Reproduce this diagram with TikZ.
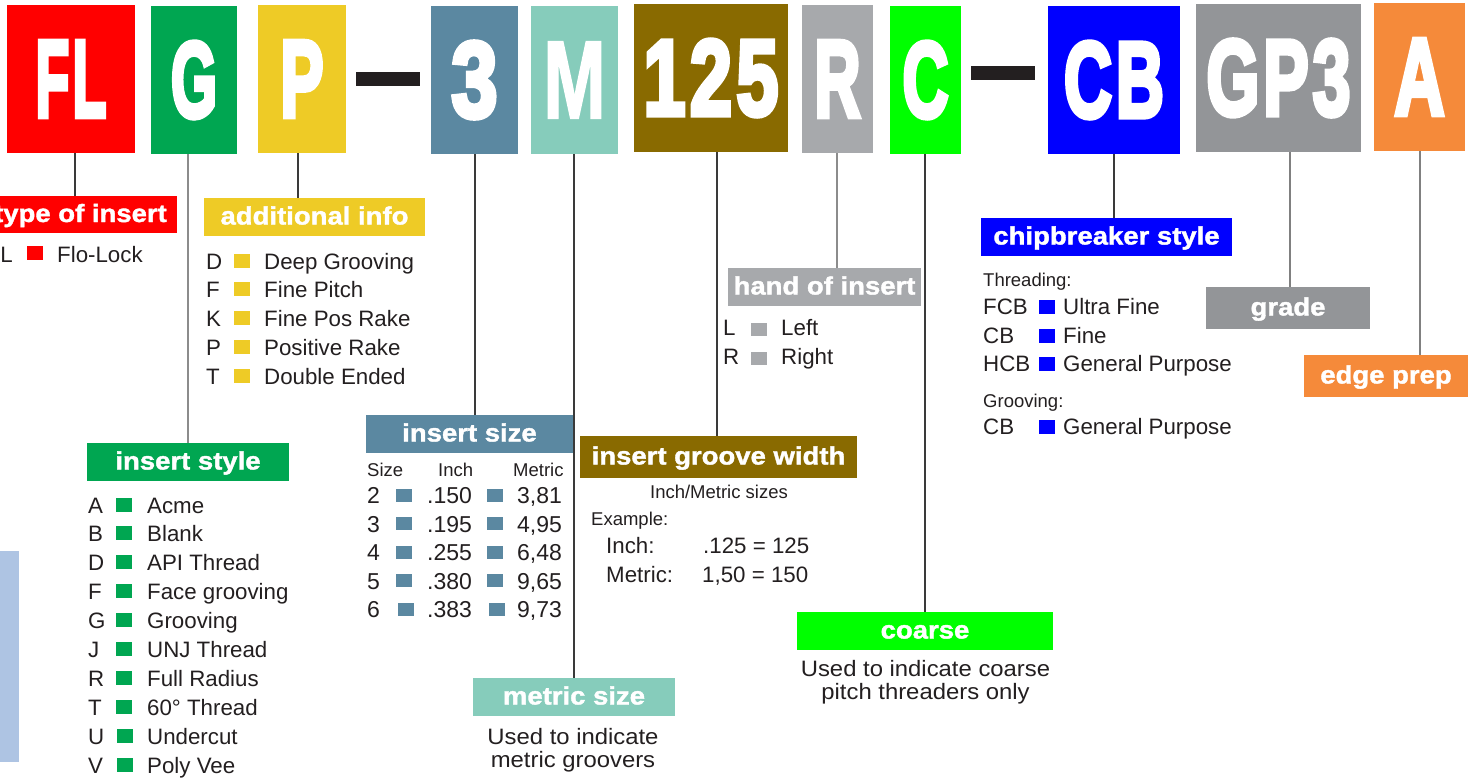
\documentclass[tikz,border=0pt]{standalone}
\usepackage{fontspec}
\setmainfont{Liberation Sans}
\newfontfamily\labfont[FakeStretch=1.1,FakeBold=1.5]{Liberation Sans}
\newfontfamily\descfont[FakeStretch=1.07]{Liberation Sans}
\newfontfamily\bigfont[FakeBold=5,LetterSpace=6]{Liberation Sans}
\newfontfamily\bigfontM[FakeBold=2]{Liberation Sans}
\usetikzlibrary{calc}
\definecolor{cRed}{HTML}{FF0000}
\definecolor{cGreen}{HTML}{00A651}
\definecolor{cYellow}{HTML}{EECB26}
\definecolor{cSteel}{HTML}{5B88A1}
\definecolor{cTeal}{HTML}{86CCBB}
\definecolor{cBrown}{HTML}{896A00}
\definecolor{cLGrey}{HTML}{A7A9AC}
\definecolor{cLime}{HTML}{00FF00}
\definecolor{cBlue}{HTML}{0000FF}
\definecolor{cGrey}{HTML}{939598}
\definecolor{cOrange}{HTML}{F58A3A}
\definecolor{cDash}{HTML}{231F20}
\definecolor{cText}{HTML}{231F20}
\definecolor{cSide}{HTML}{AEC4E3}
\definecolor{cLine}{HTML}{3A3A3A}
\definecolor{cLineG}{HTML}{8C8C8C}
\newcommand\bigL[2]{\resizebox{#1pt}{75pt}{\bigfont\bfseries #2}}
\newcommand\bigLM[2]{\resizebox{#1pt}{76pt}{\bigfontM\bfseries #2}}
\tikzset{
  topbox/.style={fill=#1, inner sep=0pt, text=white},
  labbox/.style={fill=#1, inner sep=0pt, text=white,
    font=\labfont\bfseries\fontsize{25}{25}\selectfont, text height=18pt, text depth=3pt},
  labtext/.style={inner sep=0pt, text=white,
    font=\labfont\bfseries\fontsize{25}{25}\selectfont, text height=18pt, text depth=3pt},
  item/.style={inner sep=0pt, text=cText, font=\fontsize{22.3}{26}\selectfont},
  tabitem/.style={inner sep=0pt, text=cText, font=\fontsize{23}{26}\selectfont},
  smalltext/.style={inner sep=0pt, text=cText, font=\fontsize{18.5}{22}\selectfont},
  desc/.style={inner sep=0pt, text=cText, font=\descfont\fontsize{22.3}{26}\selectfont},
  sq/.style={fill=#1, inner sep=0pt, minimum width=16pt, minimum height=14pt},
  conn/.style={draw=cLine, line width=1.2pt},
  conng/.style={draw=cLineG, line width=1.8pt},
}
\begin{document}
\begin{tikzpicture}[x=1pt,y=-1pt]
\clip (0,0) rectangle (1473,780);
\fill[white] (0,0) rectangle (1473,780);

% side bar
\node[fill=cSide, inner sep=0pt, minimum width=19pt, minimum height=211pt] (side) at (9.5,656.5) {};

% top code boxes
\node[topbox=cRed, minimum width=128pt, minimum height=148pt] (fl) at (71,79) {\bigL{71}{FL}};
\node[topbox=cGreen, minimum width=86pt, minimum height=148pt] (g) at (194,80) {\bigL{46}{G}};
\node[topbox=cYellow, minimum width=88pt, minimum height=148pt] (p) at (302,79) {\bigL{43}{P}};
\node[fill=cDash, inner sep=0pt, minimum width=64pt, minimum height=14pt] (dash1) at (388,79) {};
\node[topbox=cSteel, minimum width=87pt, minimum height=148pt] (n3) at (474.5,80) {\bigL{46}{3}};
\node[topbox=cTeal, minimum width=87pt, minimum height=148pt] (m) at (574.5,80) {\bigLM{62}{M}};
\node[topbox=cBrown, minimum width=154pt, minimum height=148pt] (w125) at (711,78) {\bigL{135}{125}};
\node[topbox=cLGrey, minimum width=71pt, minimum height=148pt] (r) at (837.5,79) {\bigL{46}{R}};
\node[topbox=cLime, minimum width=71pt, minimum height=148pt] (c) at (925.5,80) {\bigL{46}{C}};
\node[fill=cDash, inner sep=0pt, minimum width=64pt, minimum height=14pt] (dash2) at (1003,73) {};
\node[topbox=cBlue, minimum width=132pt, minimum height=148pt] (cb) at (1114,80) {\bigL{100}{CB}};
\node[topbox=cGrey, minimum width=165pt, minimum height=148pt] (gp) at (1278.5,78) {\bigL{144}{GP3}};
\node[topbox=cOrange, minimum width=91pt, minimum height=148pt] (a) at (1419.5,77) {\bigL{50}{A}};

% label boxes
\node[labbox=cRed, minimum width=197pt, minimum height=37pt] (tlab) at (78.5,214.5) {};
\node[labtext, anchor=east] (tlabt) at (167,214.5) {type of insert};
\node[labbox=cYellow, minimum width=221pt, minimum height=38pt] (alab) at (314.5,217) {additional info};
\node[labbox=cGreen, minimum width=202pt, minimum height=38pt] (slab) at (188,462) {insert style};
\node[labbox=cSteel, minimum width=207pt, minimum height=38pt] (zlab) at (469.5,434) {insert size};
\node[labbox=cTeal, minimum width=202pt, minimum height=38pt] (mlab) at (574,697) {metric size};
\node[labbox=cBrown, minimum width=277pt, minimum height=42pt] (wlab) at (718.5,457) {insert groove width};
\node[labbox=cLGrey, minimum width=193pt, minimum height=38pt] (hlab) at (824.5,287) {hand of insert};
\node[labbox=cLime, minimum width=256pt, minimum height=38pt] (clab) at (925,631) {coarse};
\node[labbox=cBlue, minimum width=251pt, minimum height=38pt] (blab) at (1106.5,237) {chipbreaker style};
\node[labbox=cGrey, minimum width=164pt, minimum height=42pt] (glab) at (1288,308) {grade};
\node[labbox=cOrange, minimum width=164pt, minimum height=42pt] (elab) at (1386,376) {edge prep};

% connectors
\draw[conn] ($(fl.south)+(4,0)$) coordinate (k1) -- (k1 |- tlab.north);
\draw[conng] ($(g.south)+(-6,0)$) coordinate (k2) -- (k2 |- slab.north);
\draw[conn] ($(p.south)+(-4,0)$) coordinate (k3) -- (k3 |- alab.north);
\draw[conn] ($(n3.south)+(0.5,0)$) coordinate (k4) -- (k4 |- zlab.north);
\draw[conn] ($(m.south)+(-0.5,0)$) coordinate (k5) -- (k5 |- mlab.north);
\draw[conn] ($(w125.south)+(6,0)$) coordinate (k6) -- (k6 |- wlab.north);
\draw[conng] ($(r.south)+(-0.5,0)$) coordinate (k7) -- (k7 |- hlab.north);
\draw[conn] ($(c.south)+(-0.5,0)$) coordinate (k8) -- (k8 |- clab.north);
\draw[conn] ($(cb.south)+(0,0)$) coordinate (k9) -- (k9 |- blab.north);
\draw[conng, draw=gray] ($(gp.south)+(11.5,0)$) coordinate (k10) -- (k10 |- glab.north);
\draw[conng, draw=gray] ($(a.south)+(0.5,0)$) coordinate (k11) -- (k11 |- elab.north);

% type of insert
\node[item, anchor=base east] (flc) at (13,262) {FL};
\node[sq=cRed] (fls) at (35,253) {};
\node[item, anchor=base west] (flt) at (57,262) {Flo-Lock};

% additional info
\foreach \cc/\tt [count=\i from 0] in {D/Deep Grooving, F/Fine Pitch, K/Fine Pos Rake, P/Positive Rake, T/Double Ended} {
  \node[item, anchor=base west] (aic\i) at (206,{269+28.75*\i}) {\cc};
  \node[sq=cYellow] (ais\i) at (242,{260.5+28.75*\i}) {};
  \node[item, anchor=base west] (ait\i) at (264,{269+28.75*\i}) {\tt};
}

% insert style
\foreach \cc/\tt [count=\i from 0] in {A/Acme, B/Blank, D/API Thread, F/Face grooving, G/Grooving, J/UNJ Thread, R/Full Radius, T/60° Thread, U/Undercut, V/Poly Vee} {
  \node[item, anchor=base west] (isc\i) at (88,{513+28.96*\i}) {\cc};
  \node[sq=cGreen] (iss\i) at ({\i>7 ? 125 : 124},{504.5+28.96*\i}) {};
  \node[item, anchor=base west] (ist\i) at (147,{513+28.96*\i}) {\tt};
}

% insert size
\node[smalltext, anchor=base west] (hsz) at (367,476.5) {Size};
\node[smalltext, anchor=base west] (hin) at (438,476.5) {Inch};
\node[smalltext, anchor=base west] (hme) at (513,476.5) {Metric};
\foreach \sz/\va/\vb [count=\i from 0] in {2/.150/{3,81}, 3/.195/{4,95}, 4/.255/{6,48}, 5/.380/{9,65}, 6/.383/{9,73}} {
  \node[tabitem, anchor=base west] (zs\i) at (367,{503.5+28.5*\i}) {\sz};
  \node[sq=cSteel, minimum height=13pt] (zq\i) at ({\i>3 ? 406 : 404},{495+28.5*\i}) {};
  \node[tabitem, anchor=base west] (zi\i) at (427,{503.5+28.5*\i}) {\va};
  \node[sq=cSteel, minimum height=13pt] (zr\i) at ({\i>3 ? 497 : 495},{495+28.5*\i}) {};
  \node[tabitem, anchor=base west] (zm\i) at (517,{503.5+28.5*\i}) {\vb};
}

% insert groove width
\node[smalltext, anchor=base] (gw1) at (719,498) {Inch/Metric sizes};
\node[smalltext, anchor=base west] (gw2) at (591,525) {Example:};
\node[item, anchor=base west] (gw3) at (606,553) {Inch:};
\node[item, anchor=base west] (gw4) at (703,553) {.125 = 125};
\node[item, anchor=base west] (gw5) at (606,582) {Metric:};
\node[item, anchor=base west] (gw6) at (702,582) {1,50 = 150};

% hand of insert
\node[item, anchor=base west] (hc1) at (723,335) {L};
\node[sq=cLGrey, minimum height=13pt] (hs1) at (759,329) {};
\node[item, anchor=base west] (ht1) at (781,335) {Left};
\node[item, anchor=base west] (hc2) at (723,364) {R};
\node[sq=cLGrey, minimum height=13pt] (hs2) at (759,358) {};
\node[item, anchor=base west] (ht2) at (781,364) {Right};

% chipbreaker style
\node[smalltext, anchor=base west] (cth) at (983,286) {Threading:};
\foreach \cc/\tt/\yy [count=\i] in {FCB/Ultra Fine/314, CB/Fine/343, HCB/General Purpose/371, CB/General Purpose/434} {
  \node[item, anchor=base west] (cbc\i) at (983,\yy) {\cc};
  \node[sq=cBlue] (cbs\i) at (1047,{\yy-7}) {};
  \node[item, anchor=base west] (cbt\i) at (1063,\yy) {\tt};
}
\node[smalltext, anchor=base west] (cgr) at (983,407) {Grooving:};

% descriptions
\node[desc, anchor=base] (md1) at (573,744) {Used to indicate};
\node[desc, anchor=base] (md2) at (573,767) {metric groovers};
\node[desc, anchor=base] (cd1) at (925.5,676) {Used to indicate coarse};
\node[desc, anchor=base] (cd2) at (925.5,699) {pitch threaders only};
\end{tikzpicture}
\end{document}
